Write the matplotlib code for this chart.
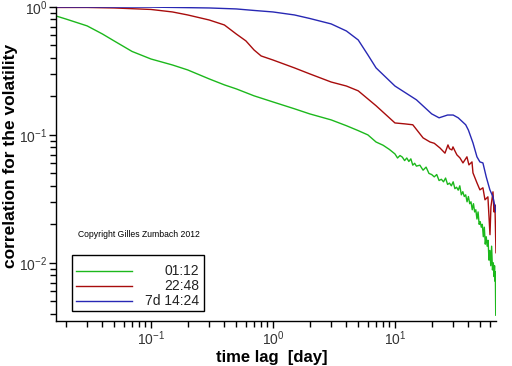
import matplotlib
matplotlib.use("Agg")
import matplotlib.pyplot as plt
from matplotlib.lines import Line2D
from matplotlib.patches import Rectangle

plt.rcParams['font.family'] = ['Liberation Sans', 'DejaVu Sans']

# time lags [day] and correlations
lag_green = [0.0166, 0.02, 0.03, 0.04, 0.05, 0.07, 0.1, 0.15, 0.2, 0.3, 0.4, 0.5,
             0.7, 1, 1.5, 2, 3, 4, 5, 6, 7, 8, 9,
             10, 10.5, 11, 11.5, 12, 12.5, 13, 13.5, 14, 14.5, 15, 16, 17, 18, 19,
             20, 21, 22, 23, 24, 25, 26, 27, 28, 29, 30, 31, 32, 33, 34, 35, 36,
             37, 38, 39, 40, 41, 42, 43, 44, 45, 46, 47, 48, 49, 50, 51, 52, 53,
             54, 55, 56, 57, 58, 59, 60, 61, 62, 63, 64, 65, 65.5, 66, 66.5, 67]
corr_green = [0.851, 0.806, 0.711, 0.615, 0.542, 0.449, 0.392, 0.352, 0.322, 0.274,
              0.246, 0.229, 0.202, 0.181, 0.160, 0.146, 0.131, 0.118, 0.108, 0.100,
              0.088, 0.083, 0.077,
              0.071, 0.066, 0.069, 0.067, 0.063, 0.066, 0.062, 0.065, 0.058, 0.060,
              0.057, 0.058, 0.053, 0.056, 0.050, 0.049, 0.047, 0.049, 0.044, 0.045,
              0.043, 0.046, 0.041, 0.042, 0.040, 0.043, 0.038, 0.039, 0.037, 0.040,
              0.034, 0.036, 0.033, 0.034, 0.030, 0.033, 0.029, 0.030, 0.026, 0.029,
              0.025, 0.026, 0.022, 0.025, 0.020, 0.021, 0.019, 0.020, 0.016, 0.019,
              0.014, 0.016, 0.0135, 0.015, 0.0105, 0.0125, 0.0095, 0.0135, 0.0088,
              0.010, 0.0078, 0.0095, 0.0072, 0.0085, 0.0039]

lag_red = [0.0166, 0.03, 0.05, 0.1, 0.15, 0.2, 0.3, 0.4, 0.5, 0.6, 0.7, 0.8, 1, 1.5,
           2, 3, 4, 5, 7, 10, 12, 14, 17, 19.4, 21, 23.4, 25.7, 27.2, 28, 29.3, 29.9,
           31, 32.2, 34.1, 36.1, 38.9, 40.4, 42.8, 43.6, 47.0, 49.7, 52.6, 54.7,
           57.8, 60.1, 61.2, 63.6, 64.8, 66.0, 67.3]
corr_red = [0.991, 0.991, 0.982, 0.956, 0.914, 0.866, 0.791, 0.723, 0.615, 0.543,
            0.461, 0.414, 0.385, 0.334, 0.300, 0.259, 0.241, 0.221, 0.169, 0.124,
            0.122, 0.120, 0.0948, 0.088, 0.086, 0.079, 0.072, 0.0835, 0.078, 0.0763,
            0.0806, 0.075, 0.0698, 0.0661, 0.0604, 0.0674, 0.0583, 0.0615, 0.0505,
            0.0422, 0.0372, 0.0386, 0.0311, 0.0328, 0.0166, 0.0274, 0.0359, 0.025,
            0.0284, 0.012]

lag_blue = [0.0166, 0.1, 0.3, 0.5, 0.7, 1, 1.5, 2, 3, 4, 5, 6, 7, 10, 15, 20, 23,
            27, 30, 33, 38, 40, 43.6, 47, 49.7, 52.6, 56, 60, 63.6, 67.3]
corr_blue = [1.0, 0.997, 0.982, 0.965, 0.939, 0.914, 0.866, 0.813, 0.737, 0.649,
             0.552, 0.422, 0.334, 0.241, 0.188, 0.146, 0.136, 0.143, 0.143, 0.136,
             0.120, 0.109, 0.0866, 0.0674, 0.0615, 0.0604, 0.0470, 0.0372, 0.0328,
             0.025]

labels = ['01:12', '22:48', '7d 14:24']
colors = ['#1cb81c', '#a80c0c', '#2828b4']

fig = plt.figure(figsize=(5.12, 3.66), dpi=100)
ax = fig.add_axes([0.109, 0.122, 0.860, 0.859])

ax.plot(lag_green, corr_green, color=colors[0], lw=1)
ax.plot(lag_red, corr_red, color=colors[1], lw=1)
ax.plot(lag_blue, corr_blue, color=colors[2], lw=1)

ax.set_xscale('log')
ax.set_yscale('log')
ax.set_xlim(0.0166, 67.5)
ax.set_ylim(0.00349, 1.0)

for side in ['top', 'right']:
    ax.spines[side].set_visible(False)
for side in ['left', 'bottom']:
    ax.spines[side].set_linewidth(1)
ax.tick_params(which='major', direction='out', length=5, width=1,
               labelsize=10, labelcolor='#333333', pad=1)
ax.tick_params(which='minor', direction='out', length=4, width=1)

ax.set_xlabel('time lag  [day]', fontsize=12, fontweight='bold')
ax.set_ylabel('correlation for the volatility', fontsize=12.5, fontweight='bold')
ax.xaxis.set_label_coords(0.49, -0.09)
ax.yaxis.set_label_coords(-0.085, 0.525)

# legend box drawn in figure coordinates
fig.add_artist(Rectangle((0.1406, 0.150), 0.2578, 0.153, transform=fig.transFigure,
                         fill=False, edgecolor='black', lw=1))
for i in range(3):
    yy = (366 - (271 + 15 * i)) / 366
    fig.add_artist(Line2D([0.148, 0.258], [yy, yy], transform=fig.transFigure,
                          color=colors[i], lw=1))
    fig.text(0.389, yy, labels[i], ha='right', va='center', fontsize=10,
             color='#222222')

fig.text(0.152, 0.358, 'Copyright Gilles Zumbach 2012', fontsize=6.2, va='center')

fig.savefig('out.png', dpi=100)
